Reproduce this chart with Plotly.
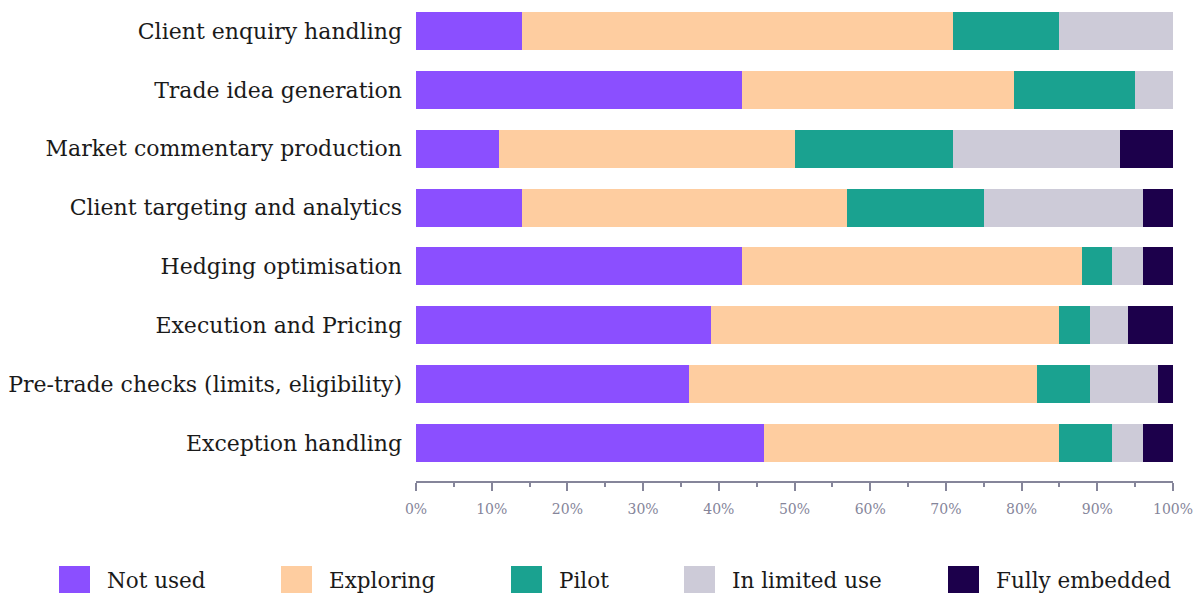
import plotly.graph_objects as go

# Use cases, top to bottom
categories = [
    "Client enquiry handling",
    "Trade idea generation",
    "Market commentary production",
    "Client targeting and analytics",
    "Hedging optimisation",
    "Execution and Pricing",
    "Pre-trade checks (limits, eligibility)",
    "Exception handling",
]

# Adoption stage shares (% of respondents)
stages = ["Not used", "Exploring", "Pilot", "In limited use", "Fully embedded"]
not_used = [14, 43, 11, 14, 43, 39, 36, 46]
exploring = [57, 36, 39, 43, 45, 46, 46, 39]
pilot = [14, 16, 21, 18, 4, 4, 7, 7]
limited_use = [15, 5, 22, 21, 4, 5, 9, 4]
fully_embedded = [0, 0, 7, 4, 4, 6, 2, 4]

series = [not_used, exploring, pilot, limited_use, fully_embedded]
colors = ["#8B4FFF", "#FECDA0", "#1AA290", "#CDCBD8", "#1C004B"]

FONT = "DejaVu Serif"
TEXT = "#1a1a1a"
AXIS = "#85859a"

W, H = 1194, 593
L, R, T, B = 416, 21, 0, 112
plot_w = W - L - R
plot_h = H - T - B

fig = go.Figure()
for name, vals, col in zip(stages, series, colors):
    fig.add_trace(go.Bar(
        y=categories, x=vals, name=name, orientation="h",
        marker=dict(color=col, line=dict(width=0)),
        showlegend=False,
        hovertemplate="%{y}<br>" + name + ": %{x}%<extra></extra>",
    ))

# Legend drawn as large swatches with labels below the axis
legend_left = [59, 281, 511, 684, 948]
sw = 31
sw_top = 566


def px_x(px):
    return (px - L) / plot_w


def px_y(py):
    return (H - B - py) / plot_h


shapes = []
annotations = []
for name, col, lx in zip(stages, colors, legend_left):
    shapes.append(dict(
        type="rect", xref="paper", yref="paper",
        x0=px_x(lx), x1=px_x(lx + sw), y0=px_y(sw_top + sw), y1=px_y(sw_top),
        fillcolor=col, line=dict(width=0), layer="above",
    ))
    annotations.append(dict(
        xref="paper", yref="paper", x=px_x(lx + 46), y=px_y(sw_top + sw / 2 - 1),
        xanchor="left", yanchor="middle", text=name, showarrow=False,
        font=dict(family=FONT, size=21.5, color=TEXT),
    ))

fig.update_layout(
    barmode="stack",
    bargap=0.354,
    width=W, height=H,
    margin=dict(l=L, r=R, t=T, b=B, pad=0),
    paper_bgcolor="white",
    plot_bgcolor="white",
    font=dict(family=FONT, color=TEXT),
    shapes=shapes,
    annotations=annotations,
    xaxis=dict(
        range=[0, 100],
        dtick=10,
        ticksuffix="%",
        showgrid=False,
        zeroline=False,
        showline=True,
        linecolor=AXIS,
        linewidth=1.5,
        ticks="outside",
        ticklen=8,
        tickwidth=1.5,
        tickcolor=AXIS,
        ticklabelstandoff=6,
        tickfont=dict(family=FONT, size=14, color=AXIS),
        minor=dict(dtick=5, ticks="outside", ticklen=4, tickwidth=1.5, tickcolor=AXIS),
        fixedrange=True,
    ),
    yaxis=dict(
        type="category",
        categoryorder="array",
        categoryarray=categories,
        range=[7.645, -0.527],
        showgrid=False,
        zeroline=False,
        showline=False,
        ticks="",
        ticklabelstandoff=13,
        tickfont=dict(family=FONT, size=22, color=TEXT),
        fixedrange=True,
    ),
)

fig.write_html("out.html")
